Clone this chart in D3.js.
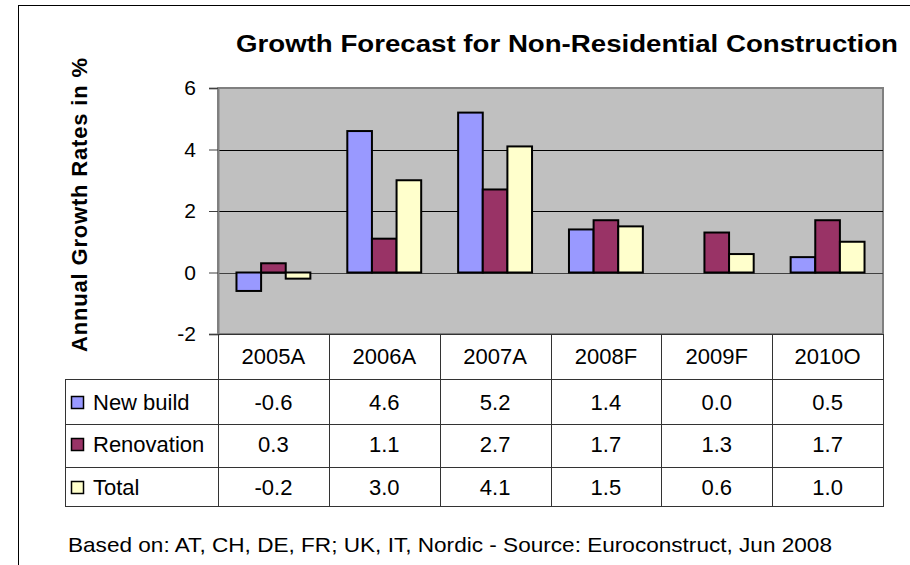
<!DOCTYPE html>
<html lang="en">
<head>
	<meta charset="UTF-8">
	<title>Growth Forecast for Non-Residential Construction</title>
	<script src="https://cdnjs.cloudflare.com/ajax/libs/d3/7.8.5/d3.min.js"></script>
	<style>
		body { margin: 0; background: #fff; }
		text { font-family: "Liberation Sans", Arial, sans-serif; fill: #000; }
	</style>
</head>
<body>
	<script type="text/javascript">

		// data
		var categories = ["2005A", "2006A", "2007A", "2008F", "2009F", "2010O"];
		var seriesNames = ["New build", "Renovation", "Total"];
		var newBuild = [-0.6, 4.6, 5.2, 1.4, 0.0, 0.5];
		var renovation = [0.3, 1.1, 2.7, 1.7, 1.3, 1.7];
		var total = [-0.2, 3.0, 4.1, 1.5, 0.6, 1.0];
		var yTicks = [-2, 0, 2, 4, 6];
		var colors = ["#9999FF", "#993366", "#FFFFCC"];

		var w = 910;
		var h = 565;
		var plotLeft = 218, plotRight = 883, plotTop = 88, plotBottom = 334;
		var tableLeft = 65;
		// row lines of the data table (header bottom, row bottoms)
		var rowLines = [379, 424, 467, 506];
		var rowBase = [410, 452, 495];

		var values = [newBuild, renovation, total];

		var svg = d3.select("body")
					.append("svg")
					.attr("width", w)
					.attr("height", h);

		// outer frame, cut by the picture on the right and bottom
		svg.append("rect")
			.attr("x", 18.5).attr("y", 5.5)
			.attr("width", 1000).attr("height", 1000)
			.attr("fill", "none")
			.attr("stroke", "#000")
			.attr("stroke-width", 1);

		var x = d3.scaleBand()
					.domain(categories)
					.range([plotLeft, plotRight]);
		var bw = x.bandwidth();
		var xs = d3.scaleBand()
					.domain(seriesNames)
					.range([bw / 6, bw * 5 / 6]);
		var y = d3.scaleLinear()
					.domain([-2, 6])
					.range([plotBottom, plotTop]);

		// plot area
		svg.append("rect")
			.attr("x", plotLeft).attr("y", plotTop)
			.attr("width", plotRight - plotLeft)
			.attr("height", plotBottom - plotTop)
			.attr("fill", "#C0C0C0")
			.attr("stroke", "#808080")
			.attr("stroke-width", 2);

		// gridlines
		svg.selectAll("line.grid")
			.data(yTicks.filter(function(d){ return d > -2 && d < 6; }))
			.enter().append("line")
			.attr("class", "grid")
			.attr("x1", plotLeft).attr("x2", plotRight)
			.attr("y1", function(d){ return Math.round(y(d)) + 0.5; })
			.attr("y2", function(d){ return Math.round(y(d)) + 0.5; })
			.attr("stroke", function(d){ return d === 0 ? "#404040" : "#000"; })
			.attr("stroke-width", 1);

		// bars
		for (var s = 0; s < values.length; s++){
			svg.selectAll("rect.s" + s)
				.data(categories.map(function(c, i){ return {cat: c, v: values[s][i]}; })
						.filter(function(d){ return d.v !== 0; }))
				.enter().append("rect")
				.attr("class", "s" + s)
				.attr("x", function(d){ return x(d.cat) + xs(seriesNames[s]); })
				.attr("width", xs.bandwidth())
				.attr("y", function(d){ return y(Math.max(0, d.v)); })
				.attr("height", function(d){ return Math.abs(y(d.v) - y(0)); })
				.attr("fill", colors[s])
				.attr("stroke", "#000")
				.attr("stroke-width", 2);
		}

		// y axis: ticks and labels
		var yAxis = d3.axisLeft(y)
					.tickValues(yTicks)
					.tickFormat(function(d){ return String(d); })
					.tickSize(9)
					.tickPadding(13);
		var gy = svg.append("g")
					.attr("transform", "translate(" + plotLeft + ",0)")
					.call(yAxis);
		gy.select(".domain").attr("stroke", "#808080").attr("stroke-width", 2);
		gy.selectAll(".tick line").attr("stroke", "#404040");
		gy.selectAll(".tick text")
			.attr("font-size", "21px")
			.attr("fill", "#000");

		// data table
		var tbl = svg.append("g").attr("stroke", "#333").attr("stroke-width", 1);
		// vertical lines
		var colEdges = categories.map(function(c){ return x(c); }).concat([plotRight]);
		tbl.selectAll("line.v")
			.data(colEdges)
			.enter().append("line")
			.attr("x1", function(d){ return Math.round(d) + 0.5; })
			.attr("x2", function(d){ return Math.round(d) + 0.5; })
			.attr("y1", plotBottom)
			.attr("y2", rowLines[3]);
		tbl.append("line")
			.attr("x1", tableLeft + 0.5).attr("x2", tableLeft + 0.5)
			.attr("y1", rowLines[0]).attr("y2", rowLines[3]);
		tbl.append("line")
			.attr("x1", plotLeft).attr("x2", plotRight)
			.attr("y1", plotBottom + 0.5).attr("y2", plotBottom + 0.5);
		tbl.selectAll("line.h")
			.data(rowLines)
			.enter().append("line")
			.attr("x1", tableLeft).attr("x2", plotRight + 1)
			.attr("y1", function(d){ return d + 0.5; })
			.attr("y2", function(d){ return d + 0.5; });

		// header row
		svg.selectAll("text.cat")
			.data(categories)
			.enter().append("text")
			.attr("class", "cat")
			.attr("x", function(d){ return x(d) + bw / 2; })
			.attr("y", 364)
			.attr("text-anchor", "middle")
			.attr("font-size", "22px")
			.text(function(d){ return d; });

		// series rows
		for (var r = 0; r < values.length; r++){
			svg.append("rect")
				.attr("x", 71.5).attr("y", rowBase[r] - 13.5)
				.attr("width", 12).attr("height", 12)
				.attr("fill", colors[r])
				.attr("stroke", "#000")
				.attr("stroke-width", 1.5);
			svg.append("text")
				.attr("x", 93).attr("y", rowBase[r])
				.attr("font-size", "22px")
				.text(seriesNames[r]);
			svg.selectAll("text.v" + r)
				.data(values[r])
				.enter().append("text")
				.attr("class", "v" + r)
				.attr("x", function(d, i){ return x(categories[i]) + bw / 2; })
				.attr("y", rowBase[r])
				.attr("text-anchor", "middle")
				.attr("font-size", "22px")
				.text(function(d){ return d.toFixed(1); });
		}

		// title
		svg.append("text")
			.attr("x", 236).attr("y", 52)
			.attr("font-size", "23px")
			.attr("font-weight", "bold")
			.attr("textLength", 662)
			.attr("lengthAdjust", "spacingAndGlyphs")
			.text("Growth Forecast for Non-Residential Construction");

		// y axis title
		svg.append("text")
			.attr("transform", "translate(87,205) rotate(-90)")
			.attr("text-anchor", "middle")
			.attr("font-size", "22px")
			.attr("font-weight", "bold")
			.attr("textLength", 294)
			.attr("lengthAdjust", "spacing")
			.text("Annual Growth Rates in %");

		// footnote
		svg.append("text")
			.attr("x", 68).attr("y", 552)
			.attr("font-size", "21px")
			.attr("textLength", 764)
			.attr("lengthAdjust", "spacingAndGlyphs")
			.text("Based on: AT, CH, DE, FR; UK, IT, Nordic - Source: Euroconstruct, Jun 2008");

	</script>
</body>
</html>
